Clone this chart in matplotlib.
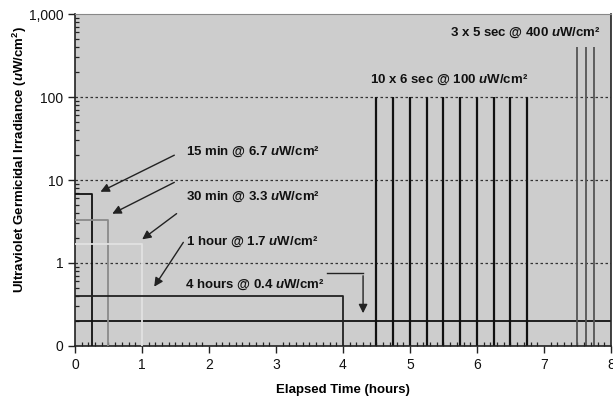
import numpy as np
import matplotlib.pyplot as plt
from matplotlib.ticker import FixedLocator, FixedFormatter, LogLocator, MultipleLocator

plt.rcParams['font.family'] = ['Liberation Sans', 'DejaVu Sans']
plt.rcParams['mathtext.fontset'] = 'custom'
plt.rcParams['mathtext.it'] = 'Liberation Sans:bold:italic'
plt.rcParams['mathtext.rm'] = 'Liberation Sans:bold'

# continuous exposures: duration (hours) and irradiance (uW/cm2)
step_hours = [0.25, 0.5, 1.0, 4.0]
step_levels = [6.7, 3.3, 1.7, 0.4]
step_labels = ['15 min @ 6.7 $u$W/cm²', '30 min @ 3.3 $u$W/cm²',
               '1 hour @ 1.7 $u$W/cm²', '4 hours @ 0.4 $u$W/cm²']
step_colors = ['#111111', '#8a8a8a', '#e2e2e2', '#222222']

# background level over the whole period
base_level = 0.2
total_hours = 8

# pulsed exposures
pulse100_times = [4.5, 4.75, 5.0, 5.25, 5.5, 5.75, 6.0, 6.25, 6.5, 6.75]
pulse100_level = 100
pulse400_times = [7.5, 7.625, 7.75]
pulse400_level = 400

# axis ("0" stands for the floor of the log axis)
y_floor = 0.1
y_ticks = [0.1, 1, 10, 100, 1000]
y_ticklabels = ['0', '1', '10', '100', '1,000']
x_ticks = list(range(0, 9))

fig = plt.figure(figsize=(6.13, 4.05), dpi=100)
ax = fig.add_axes([0.1223, 0.1457, 0.8744, 0.8197])
ax.set_facecolor('#cdcdcd')

ax.set_yscale('log')
ax.set_ylim(y_floor, 1000)
ax.set_xlim(0, total_hours)

# grid lines at 1, 10, 100
for g in y_ticks[1:-1]:
    ax.axhline(g, color='#333333', linestyle=(0, (2, 2)), linewidth=0.9, zorder=1)

# steps
for h, lv, c in zip(step_hours, step_levels, step_colors):
    ax.plot([0, h, h], [lv, lv, y_floor], color=c, linewidth=1.3, zorder=3)

ax.plot([0, total_hours], [base_level, base_level], color='#111111', linewidth=1.3, zorder=2)

# pulses
ax.vlines(pulse100_times, y_floor, pulse100_level, color='#111111', linewidth=1.6, zorder=2)
ax.vlines(pulse400_times, y_floor, pulse400_level, color='#555555', linewidth=1.3, zorder=2)

# annotations
tkw = dict(fontsize=9.5, fontweight='bold', va='center', color='#111111')
ax.text(1.66, 21.7, step_labels[0], ha='left', **tkw)
ax.text(1.66, 6.24, step_labels[1], ha='left', **tkw)
ax.text(1.66, 1.79, step_labels[2], ha='left', **tkw)
ax.text(1.64, 0.543, step_labels[3], ha='left', **tkw)
ax.text(6.77, 160, '10 x 6 sec @ 100 $u$W/cm²', ha='right', **tkw)
ax.text(7.85, 590, '3 x 5 sec @ 400 $u$W/cm²', ha='right', **tkw)

akw = dict(arrowstyle='-|>', color='#222222', lw=1.0, mutation_scale=13)
ax.annotate('', xy=(0.343, 6.97), xytext=(1.52, 20.6), arrowprops=akw)
ax.annotate('', xy=(0.52, 3.79), xytext=(1.52, 9.7), arrowprops=akw)
ax.annotate('', xy=(0.97, 1.84), xytext=(1.55, 4.12), arrowprops=akw)
ax.annotate('', xy=(1.16, 0.486), xytext=(1.64, 1.89), arrowprops=akw)
ax.plot([3.76, 4.30], [0.758, 0.758], color='#222222', linewidth=1.0)
ax.annotate('', xy=(4.30, 0.23), xytext=(4.30, 0.758), arrowprops=akw)

# ticks
ax.yaxis.set_major_locator(FixedLocator(y_ticks))
ax.yaxis.set_major_formatter(FixedFormatter(y_ticklabels))
ax.yaxis.set_minor_locator(LogLocator(base=10, subs=np.arange(2, 10)))
ax.yaxis.set_minor_formatter(FixedFormatter([]))
ax.set_xticks(x_ticks)
ax.xaxis.set_minor_locator(MultipleLocator(0.1))
ax.tick_params(axis='both', which='major', direction='out', length=5, width=1.0,
               labelsize=10, color='#222222', labelcolor='#111111')
ax.tick_params(axis='both', which='minor', direction='in', length=3, width=0.9, color='#222222')
ax.tick_params(axis='x', which='major', pad=4)

for s in ['left', 'bottom', 'right']:
    ax.spines[s].set_color('#222222')
    ax.spines[s].set_linewidth(1.2)
ax.spines['top'].set_color('#888888')
ax.spines['top'].set_linewidth(0.8)

ax.set_xlabel('Elapsed Time (hours)', fontsize=9.5, fontweight='bold')
ax.xaxis.set_label_coords(0.5, -0.1325)
ax.xaxis.label.set_va('center')
ax.set_ylabel('Ultraviolet Germicidal Irradiance ($u$W/cm$^2$)', fontsize=9.5,
              fontweight='bold')
ax.yaxis.set_label_coords(-0.103, 0.563)
ax.yaxis.label.set_va('center')

fig.savefig('out.png', dpi=100)
